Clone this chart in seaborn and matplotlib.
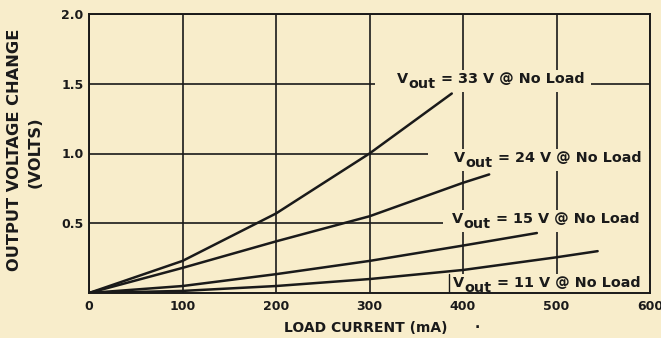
import matplotlib
matplotlib.use("Agg")
import matplotlib.pyplot as plt
from matplotlib.patches import Rectangle
from matplotlib.transforms import Bbox
import seaborn as sns
import pandas as pd

# Output voltage change vs load current, one curve per no-load output voltage
load_ma_33 = [0, 100, 200, 300, 388]
dv_33v = [0.0, 0.23, 0.57, 1.00, 1.43]

load_ma_24 = [0, 100, 200, 300, 400, 428]
dv_24v = [0.0, 0.18, 0.37, 0.55, 0.79, 0.85]

load_ma_15 = [0, 100, 200, 300, 400, 479]
dv_15v = [0.0, 0.05, 0.135, 0.23, 0.34, 0.43]

load_ma_11 = [0, 100, 200, 300, 400, 500, 544]
dv_11v = [0.0, 0.015, 0.05, 0.10, 0.165, 0.256, 0.30]

series_names = ["33", "24", "15", "11"]
x_ticks = [0, 100, 200, 300, 400, 500, 600]
y_ticks = [0.5, 1.0, 1.5, 2.0]
y_tick_labels = ["0.5", "1.0", "1.5", "2.0"]

frames = []
for name, xs, ys in zip(series_names,
                        [load_ma_33, load_ma_24, load_ma_15, load_ma_11],
                        [dv_33v, dv_24v, dv_15v, dv_11v]):
    frames.append(pd.DataFrame({"load": xs, "dv": ys, "vout": name}))
df = pd.concat(frames, ignore_index=True)

paper = "#f8edcb"
ink = "#1a1a1a"

sns.set_theme(style="white")
plt.rcParams["font.family"] = ["DejaVu Sans"]
plt.rcParams["font.weight"] = "bold"

fig = plt.figure(figsize=(6.61, 3.38), dpi=100, facecolor=paper)
ax = fig.add_axes([89 / 661, 1 - 293 / 338, (650 - 89) / 661, (293 - 14) / 338])
ax.set_facecolor(paper)

sns.lineplot(data=df, x="load", y="dv", units="vout", estimator=None,
             color=ink, lw=1.8, ax=ax, legend=False, sort=False, zorder=3)

ax.set_xlim(0, 600)
ax.set_ylim(0, 2.0)
ax.set_xticks(x_ticks)
ax.set_xticklabels([str(v) for v in x_ticks], fontweight="bold")
ax.set_yticks(y_ticks)
ax.set_yticklabels(y_tick_labels, fontweight="bold")
ax.tick_params(axis="both", length=0, labelsize=9, colors=ink)
ax.tick_params(axis="y", pad=4)
ax.tick_params(axis="x", pad=5)
ax.grid(True, color=ink, lw=1.2)
ax.set_axisbelow(True)
for s in ax.spines.values():
    s.set_color(ink)
    s.set_linewidth(1.4)
ax.set_xlabel("")
ax.set_ylabel("")

# Curve annotations: "V" + lowered "out" + the rest, on a paper-coloured
# mask that interrupts the grid behind them
label_fs = 10.4
label_specs = [
    # voltage, x (mA), baseline y (V), extra mask on the left (px)
    ("33", 329, 1.505, 22),
    ("24", 390, 0.939, 26),
    ("15", 388, 0.502, 9),
    ("11", 389, 0.043, 4),
]
label_parts = []
for v, lx, ly, lpad in label_specs:
    t1 = ax.text(lx, ly, "V", fontsize=label_fs, fontweight="bold",
                 color=ink, ha="left", va="baseline", zorder=5)
    t2 = ax.annotate("out", xy=(1, 0), xycoords=t1, xytext=(0.5, -3.5),
                     textcoords="offset points", fontsize=label_fs,
                     fontweight="bold", color=ink, ha="left", va="bottom",
                     zorder=5)
    t3 = ax.annotate(" = " + v + " V @ No Load", xy=(1, 0), xycoords=t2,
                     xytext=(0, 3.5), textcoords="offset points",
                     fontsize=label_fs, fontweight="bold", color=ink,
                     ha="left", va="bottom", zorder=5)
    label_parts.append((t1, t2, t3, lpad, v))

fig.text(366 / 661, 1 - 328 / 338, "LOAD CURRENT (mA)", ha="center",
         va="center", fontsize=10, fontweight="bold", color=ink)
fig.text(477 / 661, 1 - 328 / 338, "\u00b7", ha="center",
         va="center", fontsize=10, fontweight="bold", color=ink)
fig.text(15 / 661, 1 - 150 / 338, "OUTPUT VOLTAGE CHANGE", rotation=90,
         ha="center", va="center", fontsize=11.7, fontweight="bold", color=ink)
fig.text(35 / 661, 1 - 152 / 338, "(VOLTS)", rotation=90,
         ha="center", va="center", fontsize=11.7, fontweight="bold", color=ink)

fig.canvas.draw()
renderer = fig.canvas.get_renderer()
to_axes = ax.transAxes.inverted()
ax_right_px = ax.get_window_extent(renderer).x1
for t1, t2, t3, lpad, v in label_parts:
    bb = Bbox.union([t.get_window_extent(renderer) for t in (t1, t2, t3)])
    x0, y0 = bb.x0 - lpad, bb.y0 - 1
    x1, y1 = bb.x1 + 7, bb.y1 + 2
    if x1 > ax_right_px - 14:
        # labels close to the frame blank the grid all the way to it
        x1 = ax_right_px
    (ax0, ay0), (ax1, ay1) = to_axes.transform([(x0, y0), (x1, y1)])
    ay0 = max(ay0, 0.0)
    ax1 = min(ax1, 1.0)
    ax.add_patch(Rectangle((ax0, ay0), ax1 - ax0, ay1 - ay0,
                           transform=ax.transAxes, fc=paper, ec="none",
                           zorder=2.2, clip_on=False))
    if v == "11":
        # paste-up edge on the left of the lowest label
        ax.plot([ax0, ax0], [ay0, ay1], transform=ax.transAxes,
                color=ink, lw=1.0, zorder=2.3)

fig.savefig("out.png", dpi=100, facecolor=paper)
